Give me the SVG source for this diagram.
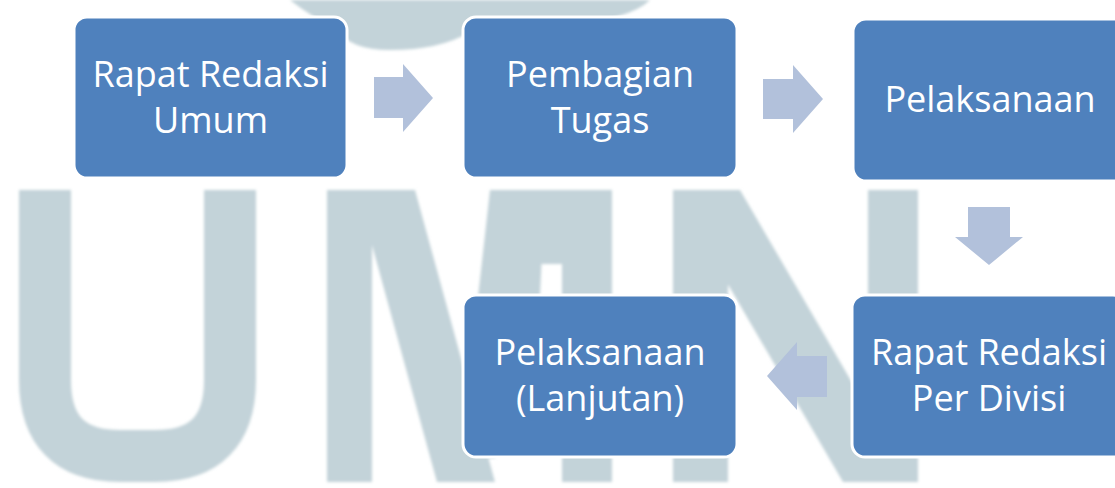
<svg xmlns="http://www.w3.org/2000/svg" width="1115" height="488" viewBox="0 0 1115 488">
<defs>
<style>
.wm{fill:#c3d3d9}
.box{fill:#4f81bd;stroke:#ffffff;stroke-width:3}
.arr{fill:#b2c1db}
.lbl{font-family:"Open Sans","Noto Sans","Liberation Sans",sans-serif;font-size:36px;fill:#ffffff;text-anchor:middle}
</style>
<filter id="soft" x="-5%" y="-5%" width="110%" height="110%"><feGaussianBlur stdDeviation="1.6"/></filter>
</defs>
<rect width="1115" height="488" fill="#ffffff"/>
<g id="watermark" filter="url(#soft)">
<path class="wm" d="M290 0 H650 Q630 20 560 26 L470 32 Q440 50 390 50 Q350 50 338 30 Q310 16 290 0 Z"/>
<path d="M45 190 V380 Q45 456 120 456 H155 Q230 456 230 380 V190" fill="none" stroke="#c3d3d9" stroke-width="52"/>
<rect class="wm" x="327" y="190" width="45" height="292"/>
<polygon class="wm" points="350,190 415,190 495,482 437,482 372,245"/>
<rect class="wm" x="562" y="190" width="50" height="292"/>
<rect class="wm" x="490" y="190" width="122" height="74"/>
<polygon class="wm" points="490,190 545,190 540,295 495,458 460,458"/>
<rect class="wm" x="673" y="190" width="55" height="292"/>
<polygon class="wm" points="673,190 740,190 910,482 843,482"/>
<rect class="wm" x="868" y="190" width="50" height="292"/>
</g>
<g id="connectors">
<polygon class="arr" points="374,77 403,77 403,64 433,98 403,132 403,118 374,118"/>
<polygon class="arr" points="763,79 793,79 793,65 823,99 793,133 793,119 763,119"/>
<polygon class="arr" points="968,207 1010,207 1010,237 1023,237 989,265 955,237 968,237"/>
<polygon class="arr" points="827,356 797,356 797,342 767,376 797,410 797,397 827,397"/>
</g>
<g id="node1">
<rect class="box" x="74" y="17" width="273" height="161" rx="13"/>
<text class="lbl" x="210.5" y="87">Rapat Redaksi</text>
<text class="lbl" x="210.5" y="133">Umum</text>
</g>
<g id="node2">
<rect class="box" x="463" y="17" width="274" height="161" rx="13"/>
<text class="lbl" x="600" y="87">Pembagian</text>
<text class="lbl" x="600" y="133">Tugas</text>
</g>
<g id="node3">
<rect class="box" x="853" y="19" width="274" height="162" rx="13"/>
<text class="lbl" x="990" y="112">Pelaksanaan</text>
</g>
<g id="node4">
<rect class="box" x="852" y="295" width="274" height="162" rx="13"/>
<text class="lbl" x="989" y="365">Rapat Redaksi</text>
<text class="lbl" x="989" y="411">Per Divisi</text>
</g>
<g id="node5">
<rect class="box" x="463" y="295" width="274" height="162" rx="13"/>
<text class="lbl" x="600" y="365">Pelaksanaan</text>
<text class="lbl" x="600" y="411">(Lanjutan)</text>
</g>
</svg>
